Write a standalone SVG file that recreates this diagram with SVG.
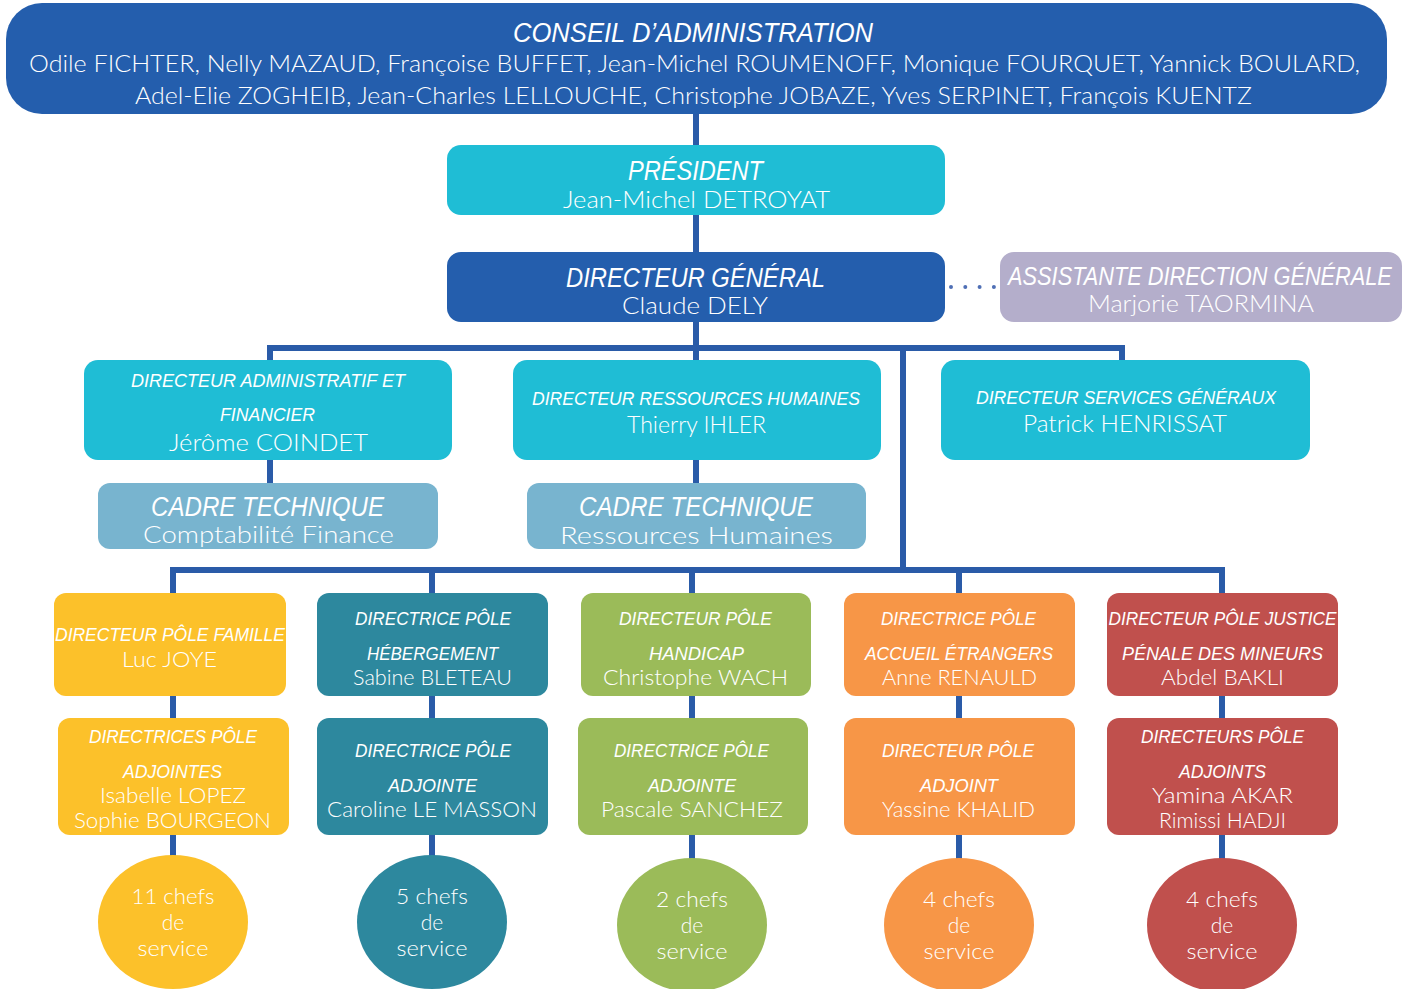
<svg xmlns="http://www.w3.org/2000/svg" width="1402" height="989" viewBox="0 0 1402 989">
<style>
.h{font-family:"Liberation Sans Narrow","Liberation Sans",sans-serif;font-style:italic;fill:#fff;text-anchor:middle}
.n{font-family:Lato,"Liberation Sans",sans-serif;font-weight:300;fill:#fff;text-anchor:middle}
.c{stroke:#2A5BA8;stroke-width:6;fill:none}
</style>
<rect width="1402" height="989" fill="#fff"/>
<g id="connectors">
<path class="c" d="M696 112V148M696 213V255M696 320V348M267 348H1125M270 345V362M696 345V362M1122 345V362M903 348V570M270 458V485M696 458V485M170 570H1225M173 567V595M432 567V595M692 567V595M959 567V595M1222 567V595M173 694V720M432 694V720M692 694V720M959 694V720M1222 694V720M173 833V858M432 833V858M692 833V860M959 833V860M1222 833V860"/>
<line x1="951" y1="287" x2="998" y2="287" stroke="#4F6FB5" stroke-width="4" stroke-linecap="round" stroke-dasharray="0 14.3"/>
</g>
<g id="conseil">
<rect x="6" y="3" width="1381" height="111" rx="36" fill="#245EAD"/>
<text class="h" x="693" y="42" font-size="27" textLength="360" lengthAdjust="spacingAndGlyphs">CONSEIL D’ADMINISTRATION</text>
<text class="n" x="694.5" y="72" font-size="23" textLength="1331" lengthAdjust="spacingAndGlyphs">Odile FICHTER, Nelly MAZAUD, Françoise BUFFET, Jean-Michel ROUMENOFF, Monique FOURQUET, Yannick BOULARD,</text>
<text class="n" x="693.5" y="104" font-size="23" textLength="1117" lengthAdjust="spacingAndGlyphs">Adel-Elie ZOGHEIB, Jean-Charles LELLOUCHE, Christophe JOBAZE, Yves SERPINET, François KUENTZ</text>
</g>
<g id="president">
<rect x="447" y="145" width="498" height="70" rx="14" fill="#1FBDD5"/>
<text class="h" x="695.5" y="180" font-size="27" textLength="135" lengthAdjust="spacingAndGlyphs">PRÉSIDENT</text>
<text class="n" x="696.5" y="208" font-size="23" textLength="267" lengthAdjust="spacingAndGlyphs">Jean-Michel DETROYAT</text>
</g>
<g id="dg">
<rect x="447" y="252" width="498" height="70" rx="14" fill="#245EAD"/>
<text class="h" x="695.5" y="287" font-size="27" textLength="259" lengthAdjust="spacingAndGlyphs">DIRECTEUR GÉNÉRAL</text>
<text class="n" x="695" y="314" font-size="23" textLength="146" lengthAdjust="spacingAndGlyphs">Claude DELY</text>
</g>
<g id="assistante">
<rect x="1000" y="252" width="402" height="70" rx="14" fill="#B4AECB"/>
<text class="h" transform="translate(1200 285) scale(0.87 1)" font-size="25">ASSISTANTE DIRECTION GÉNÉRALE</text>
<text class="n" x="1201" y="312" font-size="23" textLength="226" lengthAdjust="spacingAndGlyphs">Marjorie TAORMINA</text>
</g>
<g id="daf">
<rect x="84" y="360" width="368" height="100" rx="14" fill="#1FBDD5"/>
<text class="h" x="268" y="387" font-size="19" textLength="274" lengthAdjust="spacingAndGlyphs">DIRECTEUR ADMINISTRATIF ET</text>
<text class="h" x="267.5" y="421" font-size="19" textLength="95" lengthAdjust="spacingAndGlyphs">FINANCIER</text>
<text class="n" x="268.5" y="451" font-size="23" textLength="199" lengthAdjust="spacingAndGlyphs">Jérôme COINDET</text>
</g>
<g id="drh">
<rect x="513" y="360" width="368" height="100" rx="14" fill="#1FBDD5"/>
<text class="h" x="696" y="405" font-size="19" textLength="328" lengthAdjust="spacingAndGlyphs">DIRECTEUR RESSOURCES HUMAINES</text>
<text class="n" x="696.5" y="433" font-size="23" textLength="139" lengthAdjust="spacingAndGlyphs">Thierry IHLER</text>
</g>
<g id="dsg">
<rect x="941" y="360" width="369" height="100" rx="14" fill="#1FBDD5"/>
<text class="h" x="1126" y="404" font-size="19" textLength="300" lengthAdjust="spacingAndGlyphs">DIRECTEUR SERVICES GÉNÉRAUX</text>
<text class="n" x="1125" y="432" font-size="23" textLength="204" lengthAdjust="spacingAndGlyphs">Patrick HENRISSAT</text>
</g>
<g id="cadre-finance">
<rect x="98" y="483" width="340" height="66" rx="12" fill="#78B4CF"/>
<text class="h" x="267.5" y="516" font-size="27" textLength="233" lengthAdjust="spacingAndGlyphs">CADRE TECHNIQUE</text>
<text class="n" x="268.5" y="543" font-size="23" textLength="251" lengthAdjust="spacingAndGlyphs">Comptabilité Finance</text>
</g>
<g id="cadre-rh">
<rect x="527" y="483" width="339" height="66" rx="12" fill="#78B4CF"/>
<text class="h" x="696" y="516" font-size="27" textLength="234" lengthAdjust="spacingAndGlyphs">CADRE TECHNIQUE</text>
<text class="n" x="696.5" y="544" font-size="23" textLength="273" lengthAdjust="spacingAndGlyphs">Ressources Humaines</text>
</g>
<g id="pole-famille">
<rect x="54" y="593" width="232" height="103" rx="12" fill="#FCC12A"/>
<text class="h" x="170" y="641" font-size="19" textLength="230" lengthAdjust="spacingAndGlyphs">DIRECTEUR PÔLE FAMILLE</text>
<text class="n" x="169.5" y="667" font-size="21" textLength="95" lengthAdjust="spacingAndGlyphs">Luc JOYE</text>
</g>
<g id="pole-hebergement">
<rect x="317" y="593" width="231" height="103" rx="12" fill="#2D889E"/>
<text class="h" x="433" y="625" font-size="19" textLength="156" lengthAdjust="spacingAndGlyphs">DIRECTRICE PÔLE</text>
<text class="h" x="432.5" y="660" font-size="19" textLength="131" lengthAdjust="spacingAndGlyphs">HÉBERGEMENT</text>
<text class="n" x="432.5" y="685" font-size="21" textLength="159" lengthAdjust="spacingAndGlyphs">Sabine BLETEAU</text>
</g>
<g id="pole-handicap">
<rect x="581" y="593" width="230" height="103" rx="12" fill="#9BBB59"/>
<text class="h" x="695.5" y="625" font-size="19" textLength="153" lengthAdjust="spacingAndGlyphs">DIRECTEUR PÔLE</text>
<text class="h" x="696.5" y="660" font-size="19" textLength="95" lengthAdjust="spacingAndGlyphs">HANDICAP</text>
<text class="n" x="695.5" y="685" font-size="21" textLength="185" lengthAdjust="spacingAndGlyphs">Christophe WACH</text>
</g>
<g id="pole-accueil">
<rect x="844" y="593" width="231" height="103" rx="12" fill="#F79647"/>
<text class="h" x="958.5" y="625" font-size="19" textLength="155" lengthAdjust="spacingAndGlyphs">DIRECTRICE PÔLE</text>
<text class="h" x="959" y="660" font-size="19" textLength="188" lengthAdjust="spacingAndGlyphs">ACCUEIL ÉTRANGERS</text>
<text class="n" x="959.5" y="685" font-size="21" textLength="155" lengthAdjust="spacingAndGlyphs">Anne RENAULD</text>
</g>
<g id="pole-justice">
<rect x="1107" y="593" width="231" height="103" rx="12" fill="#C0504D"/>
<text class="h" x="1222.5" y="625" font-size="19" textLength="228" lengthAdjust="spacingAndGlyphs">DIRECTEUR PÔLE JUSTICE</text>
<text class="h" x="1222.5" y="660" font-size="19" textLength="201" lengthAdjust="spacingAndGlyphs">PÉNALE DES MINEURS</text>
<text class="n" x="1222.5" y="685" font-size="21" textLength="123" lengthAdjust="spacingAndGlyphs">Abdel BAKLI</text>
</g>
<g id="adj-famille">
<rect x="58" y="718" width="231" height="117" rx="12" fill="#FCC12A"/>
<text class="h" x="173" y="743" font-size="19" textLength="168" lengthAdjust="spacingAndGlyphs">DIRECTRICES PÔLE</text>
<text class="h" x="172.5" y="778" font-size="19" textLength="99" lengthAdjust="spacingAndGlyphs">ADJOINTES</text>
<text class="n" x="173" y="803" font-size="21" textLength="146" lengthAdjust="spacingAndGlyphs">Isabelle LOPEZ</text>
<text class="n" x="172.5" y="828" font-size="21" textLength="197" lengthAdjust="spacingAndGlyphs">Sophie BOURGEON</text>
</g>
<g id="adj-hebergement">
<rect x="317" y="718" width="231" height="117" rx="12" fill="#2D889E"/>
<text class="h" x="433" y="757" font-size="19" textLength="156" lengthAdjust="spacingAndGlyphs">DIRECTRICE PÔLE</text>
<text class="h" x="432.5" y="792" font-size="19" textLength="89" lengthAdjust="spacingAndGlyphs">ADJOINTE</text>
<text class="n" x="432" y="817" font-size="21" textLength="210" lengthAdjust="spacingAndGlyphs">Caroline LE MASSON</text>
</g>
<g id="adj-handicap">
<rect x="578" y="718" width="230" height="117" rx="12" fill="#9BBB59"/>
<text class="h" x="691.5" y="757" font-size="19" textLength="155" lengthAdjust="spacingAndGlyphs">DIRECTRICE PÔLE</text>
<text class="h" x="692" y="792" font-size="19" textLength="88" lengthAdjust="spacingAndGlyphs">ADJOINTE</text>
<text class="n" x="692" y="817" font-size="21" textLength="182" lengthAdjust="spacingAndGlyphs">Pascale SANCHEZ</text>
</g>
<g id="adj-accueil">
<rect x="844" y="718" width="231" height="117" rx="12" fill="#F79647"/>
<text class="h" x="958" y="757" font-size="19" textLength="152" lengthAdjust="spacingAndGlyphs">DIRECTEUR PÔLE</text>
<text class="h" x="959" y="792" font-size="19" textLength="78" lengthAdjust="spacingAndGlyphs">ADJOINT</text>
<text class="n" x="958.5" y="817" font-size="21" textLength="153" lengthAdjust="spacingAndGlyphs">Yassine KHALID</text>
</g>
<g id="adj-justice">
<rect x="1107" y="718" width="231" height="117" rx="12" fill="#C0504D"/>
<text class="h" x="1222.5" y="743" font-size="19" textLength="163" lengthAdjust="spacingAndGlyphs">DIRECTEURS PÔLE</text>
<text class="h" x="1222.5" y="778" font-size="19" textLength="87" lengthAdjust="spacingAndGlyphs">ADJOINTS</text>
<text class="n" x="1222.5" y="803" font-size="21" textLength="141" lengthAdjust="spacingAndGlyphs">Yamina AKAR</text>
<text class="n" x="1222.5" y="828" font-size="21" textLength="127" lengthAdjust="spacingAndGlyphs">Rimissi HADJI</text>
</g>
<g id="chefs-famille">
<ellipse cx="173" cy="922" rx="75" ry="67" fill="#FCC12A"/>
<text class="n" x="173" y="904" font-size="21" textLength="83" lengthAdjust="spacingAndGlyphs">11 chefs</text>
<text class="n" x="173" y="930" font-size="21">de</text>
<text class="n" x="173" y="956" font-size="21" textLength="71" lengthAdjust="spacingAndGlyphs">service</text>
</g>
<g id="chefs-hebergement">
<ellipse cx="432" cy="922" rx="75" ry="67" fill="#2D889E"/>
<text class="n" x="432" y="904" font-size="21" textLength="72" lengthAdjust="spacingAndGlyphs">5 chefs</text>
<text class="n" x="432" y="930" font-size="21">de</text>
<text class="n" x="432" y="956" font-size="21" textLength="71" lengthAdjust="spacingAndGlyphs">service</text>
</g>
<g id="chefs-handicap">
<ellipse cx="692" cy="925" rx="75" ry="67" fill="#9BBB59"/>
<text class="n" x="692" y="907" font-size="21" textLength="72" lengthAdjust="spacingAndGlyphs">2 chefs</text>
<text class="n" x="692" y="933" font-size="21">de</text>
<text class="n" x="692" y="959" font-size="21" textLength="71" lengthAdjust="spacingAndGlyphs">service</text>
</g>
<g id="chefs-accueil">
<ellipse cx="959" cy="925" rx="75" ry="67" fill="#F79647"/>
<text class="n" x="959" y="907" font-size="21" textLength="72" lengthAdjust="spacingAndGlyphs">4 chefs</text>
<text class="n" x="959" y="933" font-size="21">de</text>
<text class="n" x="959" y="959" font-size="21" textLength="71" lengthAdjust="spacingAndGlyphs">service</text>
</g>
<g id="chefs-justice">
<ellipse cx="1222" cy="925" rx="75" ry="67" fill="#C0504D"/>
<text class="n" x="1222" y="907" font-size="21" textLength="72" lengthAdjust="spacingAndGlyphs">4 chefs</text>
<text class="n" x="1222" y="933" font-size="21">de</text>
<text class="n" x="1222" y="959" font-size="21" textLength="71" lengthAdjust="spacingAndGlyphs">service</text>
</g>
</svg>
